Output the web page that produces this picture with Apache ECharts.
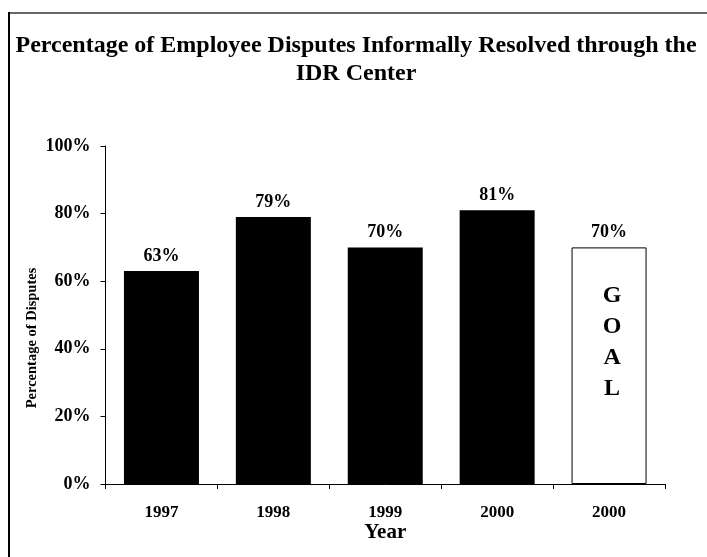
<!DOCTYPE html>
<html>
<head>
<meta charset="utf-8">
<script src="https://cdn.jsdelivr.net/npm/echarts@6/dist/echarts.min.js"></script>
<style>
  html, body { margin: 0; padding: 0; background: #fff; }
  #chart { width: 707px; height: 557px; }
</style>
</head>
<body>
<div id="chart"></div>
<script>
// Share of employee disputes resolved informally through the IDR Center
const years = ['1997', '1998', '1999', '2000', '2000'];
const resolvedPct = [63, 79, 70, 81, null];
const goalPct = [null, null, null, null, 70];
const yTicks = [0, 20, 40, 60, 80, 100];
const goalText = 'GOAL';

const SERIF = '"Liberation Serif", "Times New Roman", serif';

const chart = echarts.init(document.getElementById('chart'), null, { renderer: 'canvas' });

// actual years in black, goal year as an outlined white bar
const barData = years.map((y, i) => {
  if (resolvedPct[i] != null) return resolvedPct[i];
  return {
    value: goalPct[i],
    itemStyle: { color: '#ffffff', borderColor: '#000000', borderWidth: 1 }
  };
});
const goalOverlay = goalPct.map(v => (v == null ? '-' : v));

chart.setOption({
  animation: false,
  backgroundColor: '#ffffff',
  title: {
    text: 'Percentage of Employee Disputes Informally Resolved through the\nIDR Center',
    left: 351,
    top: 27,
    textAlign: 'center',
    textStyle: {
      fontFamily: SERIF,
      fontWeight: 'bold',
      fontSize: 24,
      lineHeight: 28,
      color: '#000'
    }
  },
  graphic: [
    { type: 'line', shape: { x1: 8, y1: 13, x2: 707, y2: 13 }, style: { stroke: '#666', lineWidth: 2 } },
    { type: 'line', shape: { x1: 9, y1: 12, x2: 9, y2: 557 }, style: { stroke: '#000', lineWidth: 2 } }
  ],
  grid: { left: 105.5, right: 42, top: 146, bottom: 73, containLabel: false },
  xAxis: {
    type: 'category',
    data: years,
    name: 'Year',
    nameLocation: 'middle',
    nameGap: 38,
    nameMoveOverlap: false,
    nameTextStyle: { fontFamily: SERIF, fontWeight: 'bold', fontSize: 21, color: '#000' },
    axisLine: { lineStyle: { color: '#000', width: 1 } },
    axisTick: { show: true, length: 5, inside: false, alignWithLabel: false, lineStyle: { color: '#000' } },
    axisLabel: {
      margin: 20,
      fontFamily: SERIF, fontWeight: 'bold', fontSize: 17, color: '#000'
    }
  },
  yAxis: {
    type: 'value',
    min: yTicks[0],
    max: yTicks[yTicks.length - 1],
    interval: 20,
    name: 'Percentage of Disputes',
    nameLocation: 'middle',
    nameRotate: 90,
    nameGap: 66,
    nameMoveOverlap: false,
    nameTextStyle: {
      fontFamily: SERIF, fontWeight: 'bold', fontSize: 14.5, color: '#000',
      padding: [0, 46, 0, 0]
    },
    axisLine: { show: true, lineStyle: { color: '#000', width: 1 } },
    axisTick: { show: true, length: 5, lineStyle: { color: '#000' } },
    splitLine: { show: false },
    axisLabel: {
      margin: 15,
      formatter: '{value}%',
      fontFamily: SERIF, fontWeight: 'bold', fontSize: 18, color: '#000'
    }
  },
  series: [
    {
      type: 'bar',
      data: barData,
      barWidth: 75,
      barGap: '-100%',
      itemStyle: { color: '#000000' },
      label: {
        show: true,
        position: 'top',
        distance: 6,
        formatter: p => p.value + '%',
        fontFamily: SERIF, fontWeight: 'bold', fontSize: 18, color: '#000'
      }
    },
    {
      type: 'bar',
      data: goalOverlay,
      barWidth: 75,
      barGap: '-100%',
      itemStyle: { color: 'rgba(0,0,0,0)' },
      silent: true,
      label: {
        show: true,
        position: 'insideTop',
        distance: 33,
        offset: [3, 0],
        formatter: () => goalText.split('').join('\n'),
        fontFamily: SERIF, fontWeight: 'bold', fontSize: 24, lineHeight: 31, color: '#000'
      }
    }
  ]
});
</script>
</body>
</html>
